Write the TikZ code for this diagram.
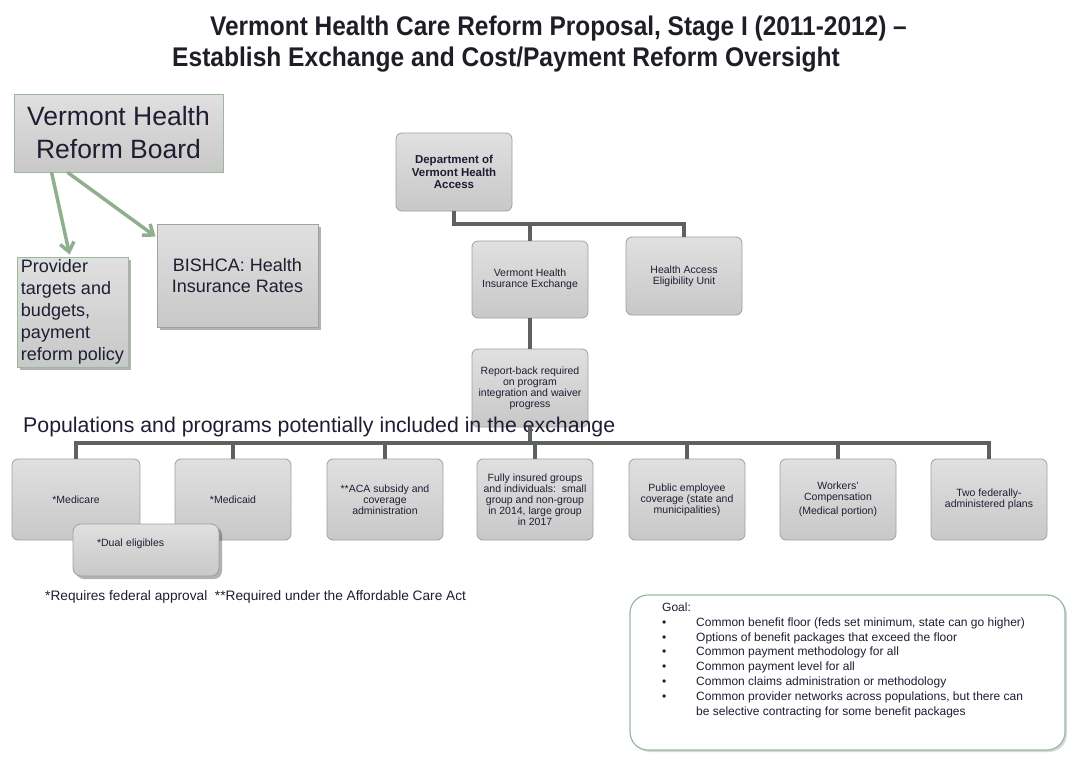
\documentclass[tikz,border=0pt]{standalone}
\usepackage{fontspec}
\setmainfont{Liberation Sans}
\usepackage{graphicx}
\usetikzlibrary{shadows,arrows.meta}
\definecolor{txt}{HTML}{1E1E32}
\definecolor{titletxt}{HTML}{1E1E26}
\definecolor{grn}{HTML}{8FAF8F}
\definecolor{grnedge}{HTML}{9CB89C}
\definecolor{edge}{HTML}{A0A0A0}
\definecolor{conn}{HTML}{5E625E}
\definecolor{fillA}{HTML}{E0E0E0}
\definecolor{fillB}{HTML}{C8C8C8}
\newcommand{\goalbullet}{\makebox[34pt][l]{\textbullet}}
\begin{document}
\begin{tikzpicture}[x=1pt,y=-1pt,
  every node/.style={text=txt, inner sep=0pt},
  sq/.style={draw=#1, line width=0.8pt, top color=fillA, bottom color=fillB, align=center},
  rbox/.style={draw=edge, line width=0.8pt, rounded corners=6pt, top color=fillA, bottom color=fillB,
    align=center, minimum width=116pt, minimum height=78pt, font=\fontsize{10.5}{11}\selectfont},
  shad/.style={drop shadow={shadow xshift=3pt, shadow yshift=-3pt, fill=black, opacity=0.3}},
  arr/.style={draw=grn, line width=3.5pt, -{Straight Barb[length=9pt,width=14pt]}},
  org/.style={draw=conn, line width=4pt},
]
\useasboundingbox (0,0) rectangle (1072,758);
\fill[white] (0,0) rectangle (1072,758);

% Title
\node[anchor=base west, text=titletxt, font=\bfseries\fontsize{27}{30}\selectfont] (t1) at (210,35.5)
  {\scalebox{0.905}[1]{Vermont Health Care Reform Proposal, Stage I (2011-2012) –}};
\node[anchor=base west, text=titletxt, font=\bfseries\fontsize{27}{30}\selectfont] (t2) at (172,66)
  {\scalebox{0.91}[1]{Establish Exchange and Cost/Payment Reform Oversight}};

% Left group
\node[sq=grnedge, minimum width=209pt, minimum height=78pt, font=\fontsize{26.5}{33}\selectfont] (vhrb) at (118.5,133)
  {Vermont Health\\Reform Board};
\node[sq=grnedge, shad, minimum width=111pt, minimum height=110pt, align=left,
  font=\fontsize{18}{22}\selectfont] (prov) at (72.5,312)
  {Provider\\targets and\\budgets,\\payment\\reform policy};
\node[sq=edge, shad, minimum width=161pt, minimum height=103pt, font=\fontsize{18}{21}\selectfont] (bishca) at (237.5,275.5)
  {BISHCA: Health\\Insurance Rates};
\draw[arr] ([xshift=38pt]vhrb.south west) -- ([xshift=53pt,yshift=2pt]prov.north west);
\draw[arr] ([xshift=54pt]vhrb.south west) -- ([xshift=-1pt,yshift=-13pt]bishca.north west);

% Org chart
\node[rbox, font=\bfseries\fontsize{11.5}{12.5}\selectfont] (dept) at (454,172) {Department of\\Vermont Health\\Access};
\node[rbox, minimum height=77pt] (vhie) at (530,279.5) {Vermont Health\\Insurance Exchange};
\node[rbox] (haeu) at (684,276) {Health Access\\Eligibility Unit};
\node[rbox] (report) at (530,388) {Report-back required\\on program\\integration and waiver\\progress};
\draw[org] (dept.south) -- ++(0,13) -| (haeu.north);
\draw[org] (vhie.north) -- (vhie.north |- 0,224);
\draw[org] (vhie.south) -- (report.north);

% Populations
\node[anchor=base west, font=\fontsize{21.3}{25}\selectfont] (pop) at (23,432)
  {Populations and programs potentially included in the exchange};

\coordinate (busL) at (76,443);
\node[rbox, minimum height=81pt, minimum width=128pt] (b1) at (76,499.5) {*Medicare};
\node[rbox, minimum height=81pt] (b2) at (233,499.5) {*Medicaid};
\node[rbox, minimum height=81pt] (b3) at (385,499.5) {**ACA subsidy and\\coverage\\administration};
\node[rbox, minimum height=81pt] (b4) at (535,499.5) {Fully insured groups\\and individuals:\ \ small\\group and non-group\\in 2014, large group\\in 2017};
\node[rbox, minimum height=81pt] (b5) at (687,499.5) {Public employee\\coverage (state and\\municipalities)};
\node[rbox, minimum height=81pt] (b6) at (838,499.5) {Workers'\\Compensation\\[3pt](Medical portion)};
\node[rbox, minimum height=81pt] (b7) at (989,499.5) {Two federally-\\administered plans};
\node[rbox, shad, rounded corners=8pt, minimum width=146pt, minimum height=52pt, text width=98pt, inner xsep=24pt,
  align=left, text height=8pt, text depth=16pt] (dual) at (146,550) {*Dual eligibles};

\draw[org] (report.south) -- (report.south |- busL);
\draw[org] (b1.north) -- (b1.north |- busL) -- (b7.north |- busL) -- (b7.north);
\foreach \b in {b2,b3,b4,b5,b6} { \draw[org] (\b.north |- busL) -- (\b.north); }

\node[anchor=base west, font=\fontsize{13.7}{16}\selectfont] (foot) at (45,600)
  {*Requires federal approval\ \ **Required under the Affordable Care Act};

% Goal
\node[draw=grnedge, line width=1.2pt, rounded corners=18pt, fill=white,
  drop shadow={shadow xshift=2pt, shadow yshift=-2pt, fill=black, opacity=0.15},
  minimum width=435pt, minimum height=155pt] (goal) at (847.5,672.5) {};
\node[anchor=north west, align=left, font=\fontsize{12}{14.85}\selectfont] (goaltext) at (662,602.5)
  {Goal:\\
   \goalbullet Common benefit floor (feds set minimum, state can go higher)\\
   \goalbullet Options of benefit packages that exceed the floor\\
   \goalbullet Common payment methodology for all\\
   \goalbullet Common payment level for all\\
   \goalbullet Common claims administration or methodology\\
   \goalbullet Common provider networks across populations, but there can\\
   \hspace*{34pt}be selective contracting for some benefit packages};
\end{tikzpicture}
\end{document}
